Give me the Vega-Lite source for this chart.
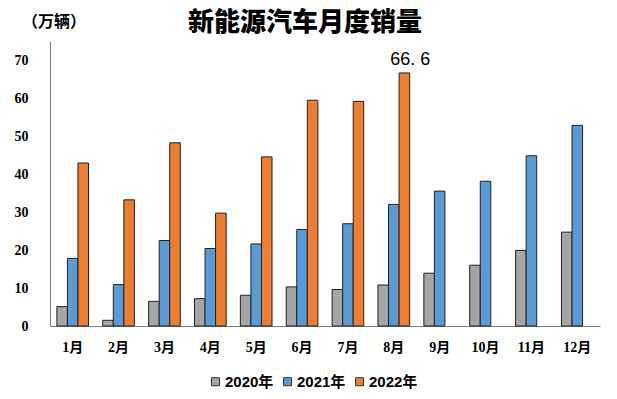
{
  "$schema": "https://vega.github.io/schema/vega-lite/v6.json",
  "width": 550,
  "height": 285,
  "autosize": {"type": "none"},
  "padding": {"left": 50, "top": 41, "right": 17, "bottom": 73},
  "background": "white",
  "title": {
    "text": "新能源汽车月度销量",
    "font": "Noto Sans CJK SC",
    "fontSize": 26,
    "fontWeight": 900,
    "color": "#000000",
    "anchor": "middle",
    "dx": -20,
    "offset": -22
  },
  "config": {
    "view": {"stroke": null},
    "axis": {"grid": false, "ticks": false, "domainColor": "#7f7f7f", "domainWidth": 1}
  },
  "layer": [
    {
      "data": {
        "values": [
          {"month": "1月", "year": "2020年", "value": 5.1},
          {"month": "1月", "year": "2021年", "value": 17.8},
          {"month": "1月", "year": "2022年", "value": 42.9},
          {"month": "2月", "year": "2020年", "value": 1.5},
          {"month": "2月", "year": "2021年", "value": 10.9},
          {"month": "2月", "year": "2022年", "value": 33.2},
          {"month": "3月", "year": "2020年", "value": 6.5},
          {"month": "3月", "year": "2021年", "value": 22.5},
          {"month": "3月", "year": "2022年", "value": 48.2},
          {"month": "4月", "year": "2020年", "value": 7.2},
          {"month": "4月", "year": "2021年", "value": 20.4},
          {"month": "4月", "year": "2022年", "value": 29.7},
          {"month": "5月", "year": "2020年", "value": 8.1},
          {"month": "5月", "year": "2021年", "value": 21.6},
          {"month": "5月", "year": "2022年", "value": 44.5},
          {"month": "6月", "year": "2020年", "value": 10.3},
          {"month": "6月", "year": "2021年", "value": 25.4},
          {"month": "6月", "year": "2022年", "value": 59.4},
          {"month": "7月", "year": "2020年", "value": 9.6},
          {"month": "7月", "year": "2021年", "value": 26.9},
          {"month": "7月", "year": "2022年", "value": 59.1},
          {"month": "8月", "year": "2020年", "value": 10.8},
          {"month": "8月", "year": "2021年", "value": 32.0},
          {"month": "8月", "year": "2022年", "value": 66.6, "label": "66. 6"},
          {"month": "9月", "year": "2020年", "value": 13.9},
          {"month": "9月", "year": "2021年", "value": 35.5},
          {"month": "10月", "year": "2020年", "value": 16.0},
          {"month": "10月", "year": "2021年", "value": 38.1},
          {"month": "11月", "year": "2020年", "value": 19.9},
          {"month": "11月", "year": "2021年", "value": 44.8},
          {"month": "12月", "year": "2020年", "value": 24.7},
          {"month": "12月", "year": "2021年", "value": 52.8}
        ]
      },
      "encoding": {
        "x": {
          "field": "month",
          "type": "nominal",
          "sort": null,
          "scale": {"paddingInner": 0.31, "paddingOuter": 0.15},
          "axis": {
            "title": null,
            "labelAngle": 0,
            "labelFont": "Liberation Serif, Noto Sans CJK SC",
            "labelFontSize": 14,
            "labelFontWeight": "bold",
            "labelColor": "#000000",
            "labelPadding": 14
          }
        },
        "y": {
          "field": "value",
          "type": "quantitative",
          "scale": {"domain": [0, 75], "nice": false},
          "axis": {
            "title": null,
            "values": [0, 10, 20, 30, 40, 50, 60, 70],
            "labelFont": "Liberation Serif",
            "labelFontSize": 14,
            "labelFontWeight": "bold",
            "labelColor": "#000000",
            "labelPadding": 22
          }
        },
        "xOffset": {"field": "year", "type": "nominal", "scale": {"domain": ["2020年", "2021年", "2022年"]}}
      },
      "layer": [
        {
          "mark": {"type": "bar", "stroke": "#222222", "strokeWidth": 1},
          "encoding": {
            "color": {
              "field": "year",
              "type": "nominal",
              "scale": {"domain": ["2020年", "2021年", "2022年"], "range": ["#A5A5A5", "#5B9BD5", "#ED7D31"]},
              "legend": {
                "title": null,
                "orient": "none",
                "direction": "horizontal",
                "legendX": 158,
                "legendY": 333,
                "symbolType": "square",
                "symbolSize": 64,
                "symbolStrokeColor": "#333333",
                "symbolStrokeWidth": 1,
                "labelFont": "Liberation Sans, Noto Sans CJK SC",
                "labelFontSize": 15,
                "labelFontWeight": "bold",
                "labelColor": "#000000",
                "labelOffset": 2,
                "columnPadding": 6
              }
            }
          }
        },
        {
          "transform": [{"filter": "datum.label != null"}],
          "mark": {"type": "text", "font": "Liberation Sans", "fontSize": 18, "fontWeight": "normal", "color": "#000000", "dy": -13, "dx": 6},
          "encoding": {
            "text": {"field": "label"}
          }
        }
      ]
    },
    {
      "data": {"values": [{"unit": "（万辆）"}]},
      "mark": {"type": "text", "font": "Noto Sans CJK SC", "fontSize": 16, "fontWeight": "bold", "color": "#000000", "align": "center", "baseline": "middle"},
      "encoding": {
        "text": {"field": "unit"},
        "x": {"value": 4},
        "y": {"value": -19}
      }
    }
  ]
}
